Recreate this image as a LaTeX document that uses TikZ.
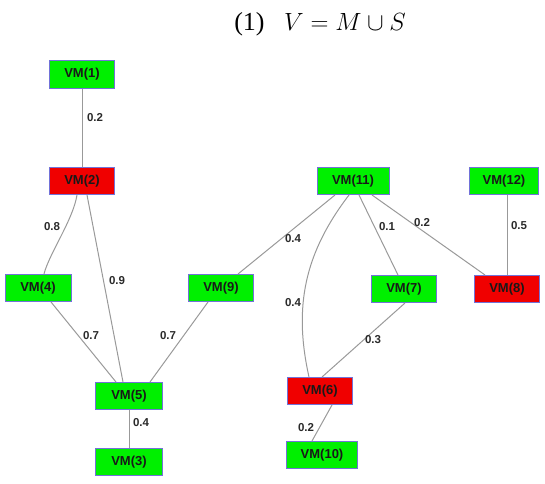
\documentclass[tikz,border=0pt]{standalone}
\usepackage{fontspec}
\setmainfont{Liberation Serif}
\newfontfamily\nodefont{Liberation Sans}
\definecolor{vmgreen}{HTML}{00F000}
\definecolor{vmred}{HTML}{F00000}
\definecolor{vmborder}{HTML}{7272D8}
\definecolor{edgegray}{HTML}{999999}
\definecolor{lblgray}{HTML}{2A2A2A}
\begin{document}
\begin{tikzpicture}[x=1pt,y=1pt,
  vm/.style={draw=vmborder, line width=1pt, minimum width=65pt, minimum height=27pt, inner sep=0pt,
    font=\nodefont\bfseries\fontsize{13}{15}\selectfont, text=black!90},
  okvm/.style={vm, fill=vmgreen},
  badvm/.style={vm, fill=vmred},
  link/.style={draw=edgegray, line width=1pt},
  lbl/.style={font=\nodefont\bfseries\fontsize{11.5}{13}\selectfont, text=lblgray, inner sep=0pt}]
\useasboundingbox (0,0) rectangle (545,483);
% title
\node[font=\fontsize{26}{30}\selectfont, inner sep=0pt] (title) at (320,459) {(1)\hspace{0.75em}$V = M \cup S$};
% nodes
\node[okvm] (v1) at (82,408.5) {VM(1)};
\node[badvm] (v2) at (82,302) {VM(2)};
\node[okvm, minimum width=66pt] (v4) at (38,195) {VM(4)};
\node[okvm] (v9) at (221,195) {VM(9)};
\node[okvm, minimum width=67pt] (v5) at (129,87) {VM(5)};
\node[okvm, minimum width=67pt] (v3) at (129,21) {VM(3)};
\node[okvm, minimum width=72pt] (v11) at (353,302) {VM(11)};
\node[okvm, minimum width=69pt] (v12) at (504,302) {VM(12)};
\node[okvm] (v7) at (404,194) {VM(7)};
\node[badvm] (v8) at (507,194) {VM(8)};
\node[badvm] (v6) at (320,92) {VM(6)};
\node[okvm, minimum width=71pt] (v10) at (322,28) {VM(10)};
% edges
\draw[link] (v1.south) -- (v2.north);
\draw[link] ([xshift=-5pt]v2.south) .. controls +(-4,-25) and +(5,20) .. ([xshift=6pt]v4.north);
\draw[link] ([xshift=5pt]v2.south) -- ([xshift=-6pt]v5.north);
\draw[link] ([xshift=13pt]v4.south) -- ([xshift=-13pt]v5.north);
\draw[link] ([xshift=-13pt]v9.south) -- ([xshift=21pt]v5.north);
\draw[link] ([xshift=-18pt]v11.south) -- ([xshift=17pt]v9.north);
\draw[link] ([xshift=-4pt]v11.south) to[bend right=25] ([xshift=-11pt]v6.north);
\draw[link] ([xshift=6pt]v11.south) -- ([xshift=-6pt]v7.north);
\draw[link] ([xshift=19pt]v11.south) -- ([xshift=-22pt]v8.north);
\draw[link] (v8.north |- v12.south) -- (v8.north);
\draw[link] ([xshift=1pt]v7.south) -- ([xshift=2pt]v6.north);
\draw[link] ([xshift=12pt]v6.south) -- ([xshift=-10pt]v10.north);
\draw[link] (v5.south) -- (v3.north);
% weights
\node[lbl] (w12) at (95,365) {0.2};
\node[lbl] (w24) at (52,256) {0.8};
\node[lbl] (w25) at (117,202) {0.9};
\node[lbl] (w45) at (91,147) {0.7};
\node[lbl] (w95) at (168,147) {0.7};
\node[lbl] (w53) at (141,60) {0.4};
\node[lbl] (w119) at (293,244) {0.4};
\node[lbl] (w117) at (387,256) {0.1};
\node[lbl] (w118) at (422,260) {0.2};
\node[lbl] (w128) at (519,257) {0.5};
\node[lbl] (w116) at (293,180) {0.4};
\node[lbl] (w76) at (373,143) {0.3};
\node[lbl] (w610) at (306,55) {0.2};
\end{tikzpicture}
\end{document}
